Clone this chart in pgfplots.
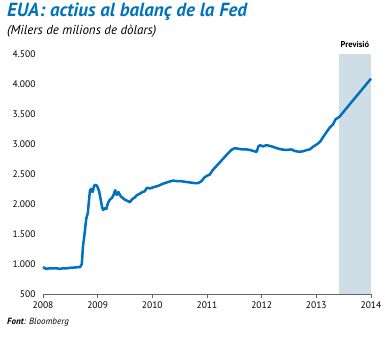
\documentclass[border=0pt]{standalone}
\usepackage{pgfplots}
\pgfplotsset{compat=1.18}
\usepackage{fontspec}
\setmainfont{PT Sans}
\definecolor{fedblue}{RGB}{0,112,192}
\definecolor{titleblue}{RGB}{0,114,188}
\definecolor{shade}{RGB}{206,221,230}
\definecolor{gridgray}{RGB}{200,200,200}
\begin{document}
\begin{tikzpicture}
\useasboundingbox (0,0) rectangle (390pt,338pt);
\node[anchor=west, text=titleblue, font=\fontsize{19}{21}\selectfont\bfseries\itshape, inner sep=0pt] at (7pt,326pt) {EUA: actius al balanç de la Fed};
\node[anchor=west, font=\fontsize{13}{15}\selectfont\itshape, inner sep=0pt] at (7pt,307pt) {(Milers de milions de dòlars)};
\node[anchor=west, font=\fontsize{9}{11}\selectfont\itshape, inner sep=0pt] at (7pt,16pt) {\textbf{Font}: Bloomberg};
\begin{axis}[
  at={(43pt,44pt)}, anchor=south west,
  scale only axis, width=328pt, height=240pt,
  xmin=2008, xmax=2014, ymin=500, ymax=4500,
  xtick={2008,2009,...,2014},
  ytick={500,1000,...,4500},
  axis y line=none,
  axis x line*=bottom,
  x axis line style={gray!80!black, -},
  xtick style={gray!80!black, thin},
  tick align=outside,
  major tick length=4pt,
  ymajorgrids, grid style={gridgray, thin},
  /pgf/number format/assume math mode=true,
  xticklabel style={/pgf/number format/1000 sep={}, font=\fontsize{9.5}{10}\selectfont},
  clip=false,
]
\addplot[draw=none, fill=shade] coordinates {(2013.41,500) (2014,500) (2014,4500) (2013.41,4500)} -- cycle;
\addplot[only marks, mark=none, nodes near coords, point meta=explicit symbolic,
  every node near coord/.style={anchor=east, font=\fontsize{9.5}{10}\selectfont, xshift=-4pt, yshift=0pt}]
  table[meta=lab] {
x y lab
2008 500 500
2008 1000 1.000
2008 1500 1.500
2008 2000 2.000
2008 2500 2.500
2008 3000 3.000
2008 3500 3.500
2008 4000 4.000
2008 4500 4.500
};
\addplot[color=fedblue, line width=2.5pt, line join=round] coordinates {
(2008.00,950) (2008.04,925) (2008.08,920) (2008.12,930) (2008.17,925) (2008.22,930)
(2008.27,925) (2008.31,917) (2008.36,930) (2008.42,925) (2008.48,935) (2008.55,940)
(2008.62,945) (2008.68,950) (2008.71,1000) (2008.73,1283) (2008.76,1500)
(2008.79,1750) (2008.82,1850) (2008.84,2050) (2008.86,2230) (2008.88,2250)
(2008.91,2200) (2008.93,2290) (2008.95,2320) (2008.98,2310) (2009.00,2280)
(2009.03,2200) (2009.06,2050) (2009.08,1950) (2009.10,1900) (2009.13,1930)
(2009.16,1920) (2009.19,2020) (2009.22,2070) (2009.26,2100) (2009.29,2150)
(2009.32,2230) (2009.35,2150) (2009.38,2200) (2009.42,2130) (2009.46,2100)
(2009.50,2070) (2009.55,2050) (2009.59,2030) (2009.63,2080) (2009.68,2110)
(2009.72,2150) (2009.77,2170) (2009.82,2200) (2009.86,2210) (2009.90,2270)
(2009.96,2260) (2010.02,2280) (2010.10,2300) (2010.20,2340) (2010.30,2370)
(2010.38,2390) (2010.45,2380) (2010.52,2380) (2010.60,2370) (2010.68,2360)
(2010.76,2350) (2010.84,2350) (2010.90,2380) (2010.95,2440) (2011.00,2470)
(2011.05,2490) (2011.10,2560) (2011.20,2660) (2011.30,2760) (2011.40,2860)
(2011.46,2910) (2011.51,2930) (2011.58,2920) (2011.65,2910) (2011.72,2910)
(2011.79,2900) (2011.86,2880) (2011.91,2870) (2011.94,2960) (2011.97,2980)
(2012.03,2960) (2012.08,2980) (2012.12,2975) (2012.18,2960) (2012.28,2930)
(2012.36,2910) (2012.46,2900) (2012.54,2910) (2012.62,2880) (2012.70,2870)
(2012.76,2880) (2012.83,2900) (2012.88,2910) (2012.95,2960) (2013.02,3000)
(2013.07,3040) (2013.12,3110) (2013.18,3190) (2013.25,3280) (2013.30,3320)
(2013.35,3410) (2013.40,3440) (2013.43,3460) (2013.60,3650) (2013.80,3870)
(2014.00,4090)
};
\end{axis}
\node[font=\fontsize{8.5}{10}\selectfont\bfseries] at (355pt,293pt) {Previsió};
\end{tikzpicture}
\end{document}
